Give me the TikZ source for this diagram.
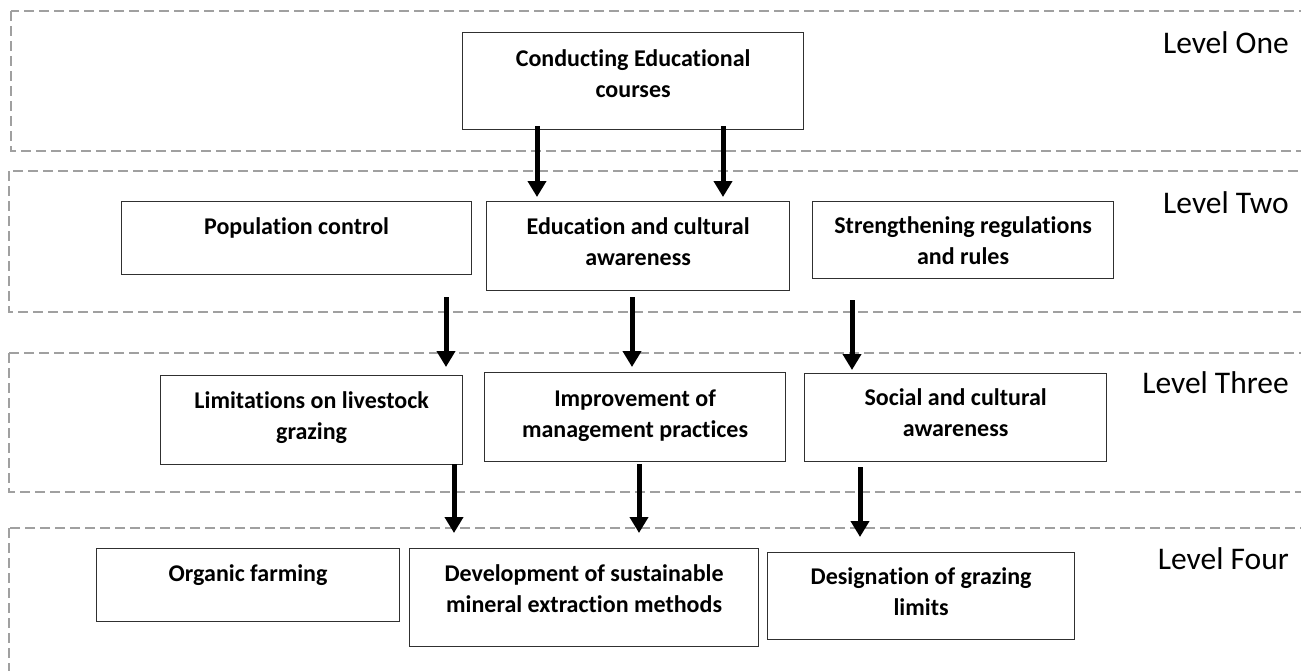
\documentclass[tikz,border=0pt]{standalone}
\usepackage{fontspec}
\setmainfont{Carlito}[Ligatures=NoCommon]
\usetikzlibrary{arrows.meta,calc}
\definecolor{levelgray}{HTML}{A0A0A0}
\definecolor{boxline}{HTML}{303030}
\begin{document}
\begin{tikzpicture}[x=1pt,y=-1pt,
  level/.style={draw=levelgray, line width=1.3pt, dash pattern=on 10pt off 5pt},
  box/.style={draw=boxline, line width=1.2pt, anchor=north west, inner sep=0pt},
  boxtext/.style={font=\bfseries\fontsize{24}{31}\selectfont, align=center, inner sep=0pt},
  leveltext/.style={font=\fontsize{31.5}{36}\selectfont, anchor=base east, inner sep=0pt},
  arr/.style={line width=5pt, -{Triangle[width=18pt,length=16pt]}}]
\useasboundingbox (0,0) rectangle (1301,670);
\clip (0,0) rectangle (1301,670);

% dashed level bands (open to the right / bottom)
\draw[level] (11,11) rectangle (1330,151);
\draw[level] (9,171) rectangle (1330,312);
\draw[level] (9,353) rectangle (1330,492);
\draw[level] (9,528) rectangle (1330,720);

% level captions
\node[leveltext] (l1) at (1289,53) {Level One};
\node[leveltext] (l2) at (1289,213) {Level Two};
\node[leveltext] (l3) at (1289,393) {Level Three};
\node[leveltext] (l4) at (1289,569) {Level Four};

% boxes
\node[box, minimum width=341pt, minimum height=97pt] (conduct) at (462,32) {};
\node[box, minimum width=350pt, minimum height=73pt] (pop) at (121,201) {};
\node[box, minimum width=303pt, minimum height=89pt] (edu) at (486,201) {};
\node[box, minimum width=301pt, minimum height=77pt] (str) at (812,201) {};
\node[box, minimum width=302pt, minimum height=89pt] (lim) at (160,375) {};
\node[box, minimum width=301pt, minimum height=89pt] (imp) at (484,372) {};
\node[box, minimum width=302pt, minimum height=88pt] (soc) at (804,373) {};
\node[box, minimum width=303pt, minimum height=73pt] (org) at (96,548) {};
\node[box, minimum width=349pt, minimum height=98pt] (dev) at (409,548) {};
\node[box, minimum width=307pt, minimum height=87pt] (des) at (767,552) {};

% box texts
\node[boxtext] (t-conduct) at ($(conduct.north)+(0,44)$) {\strut Conducting Educational\\\strut courses};
\node[boxtext] (t-pop) at ($(pop.north)+(0,27)$) {\strut Population control};
\node[boxtext] (t-edu) at ($(edu.north)+(0,42.5)$) {\strut Education and cultural\\\strut awareness};
\node[boxtext] (t-str) at ($(str.north)+(0,42)$) {\strut Strengthening regulations\\\strut and rules};
\node[boxtext] (t-lim) at ($(lim.north)+(0,42.5)$) {\strut Limitations on livestock\\\strut grazing};
\node[boxtext] (t-imp) at ($(imp.north)+(0,44)$) {\strut Improvement of\\\strut management practices};
\node[boxtext] (t-soc) at ($(soc.north)+(0,42)$) {\strut Social and cultural\\\strut awareness};
\node[boxtext] (t-org) at ($(org.north)+(0,27)$) {\strut Organic farming};
\node[boxtext] (t-dev) at ($(dev.north)+(0,43)$) {\strut Development of sustainable\\\strut mineral extraction methods};
\node[boxtext] (t-des) at ($(des.north)+(0,41.5)$) {\strut Designation of grazing\\\strut limits};

% arrows between levels
\draw[arr] ($(conduct.south west)+(75,-4)$) coordinate (a1) -- ($(a1 |- edu.north)+(0,-4)$);
\draw[arr] ($(conduct.south west)+(261,-4)$) coordinate (a2) -- ($(a2 |- edu.north)+(0,-4)$);
\draw[arr] ($(pop.south west)+(325,22)$) coordinate (a3) -- ($(a3 |- lim.north)+(0,-8)$);
\draw[arr] ($(edu.south west)+(146,6)$) coordinate (a4) -- ($(a4 |- imp.north)+(0,-5)$);
\draw[arr] ($(str.south west)+(40,21)$) coordinate (a5) -- ($(a5 |- soc.north)+(0,-3)$);
\draw[arr] ($(lim.south west)+(294,-1)$) coordinate (a6) -- ($(a6 |- dev.north)+(0,-15)$);
\draw[arr] ($(imp.south west)+(155,2)$) coordinate (a7) -- ($(a7 |- dev.north)+(0,-15)$);
\draw[arr] ($(soc.south west)+(56,5)$) coordinate (a8) -- ($(a8 |- des.north)+(0,-15)$);
\end{tikzpicture}
\end{document}
